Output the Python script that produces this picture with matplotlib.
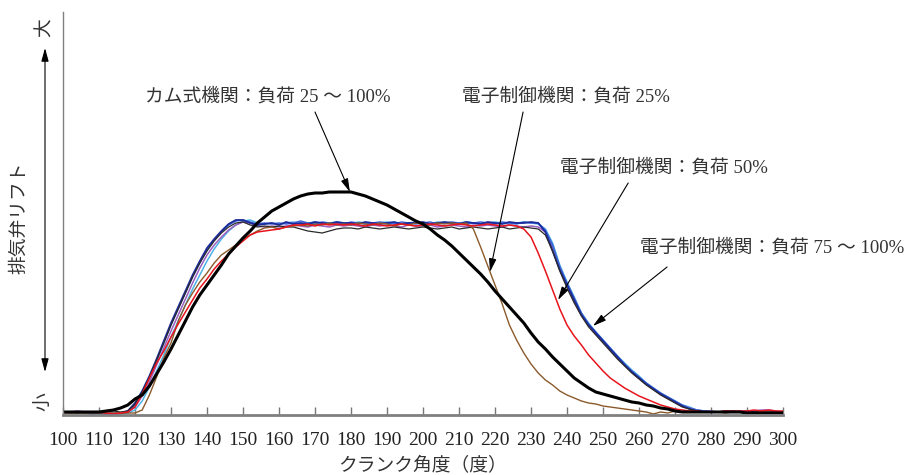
import numpy as np
import matplotlib
matplotlib.use('Agg')
import matplotlib.pyplot as plt

plt.rcParams['font.family'] = ['Liberation Serif', 'Noto Sans CJK JP', 'DejaVu Sans']

# crank angle grid (deg), shared by all traces
angle = np.arange(100, 301, 2)

# exhaust valve lift (arbitrary units)
cam = [1, 1, 1, 1, 1, 1, 2, 3, 5, 8,
       14, 18, 27, 39, 51, 64, 78, 92, 106, 118,
       128, 138, 148, 159, 167, 175, 182, 190, 196, 202,
       206, 210, 214, 217, 219, 220, 220, 221, 221, 221,
       221, 219, 217, 214, 211, 208, 204, 200, 196, 192,
       189, 184, 178, 173, 167, 160, 153, 146, 139, 131,
       122, 114, 106, 98, 90, 80, 71, 64, 56, 49,
       42, 35, 30, 25, 21, 19, 17, 15, 13, 11,
       10, 8, 7, 5, 4, 2, 1, 1, 1, 1,
       1, 1, 1, 1, 1, 0, 0, 0, 0, 0,
       0]

ecu25 = [0, 0, 0, 0, 0, 0, 0, 0, 0, 0,
         0, 3, 18, 36, 55, 70, 92, 108, 120, 131,
         140, 150, 158, 163, 168, 174, 178, 182, 185, 186,
         184, 186, 187, 188, 187, 189, 188, 190, 188, 189,
         188, 190, 189, 188, 190, 189, 187, 189, 188, 190,
         189, 188, 190, 189, 190, 189, 190, 184, 166, 147,
         128, 109, 88, 73, 60, 49, 40, 33, 28, 22,
         18, 15, 12, 10, 9, 7, 6, 5, 4, 3,
         2, 1, -1, 1, 0, 2, 1, 1, 1, 1,
         1, 1, 0, 1, 1, 1, 0, 1, 1, 0,
         0]

ecu50 = [1, 1, 1, 1, 1, 1, 0, -1, 0, 1,
         6, 19, 35, 50, 62, 76, 89, 101, 113, 125,
         134, 144, 152, 159, 166, 172, 178, 181, 182, 183,
         184, 186, 188, 188, 189, 187, 189, 188, 189, 188,
         189, 188, 187, 189, 188, 187, 188, 189, 188, 187,
         188, 189, 188, 187, 188, 189, 188, 187, 188, 189,
         188, 187, 188, 187, 184, 176, 160, 142, 123, 104,
         88, 77, 68, 58, 50, 42, 35, 30, 25, 21,
         17, 14, 11, 8, 6, 4, 3, 2, 2, 1,
         1, 1, 2, 2, 2, 2, 3, 2, 3, 2,
         2]

ecu75_navy = [1, 1, 0, 1, 0, 0, -1, -1, 0, 2,
              10, 22, 37, 54, 72, 90, 106, 122, 138, 152,
              165, 174, 182, 189, 193, 193, 190, 188, 189, 190,
              188, 191, 189, 190, 189, 191, 190, 189, 191, 190,
              190, 189, 191, 190, 189, 190, 191, 189, 190, 190,
              191, 189, 190, 191, 190, 189, 191, 190, 189, 191,
              190, 189, 191, 190, 190, 191, 190, 181, 162, 143,
              128, 113, 98, 88, 80, 72, 64, 56, 48, 41,
              35, 29, 24, 19, 15, 11, 7, 4, 2, 1,
              1, 1, 1, 2, 1, 1, 1, 0, 1, 0,
              0]

ecu75_blue = [1, 0, 1, 0, -1, 0, 0, -1, 0, 1,
              8, 20, 35, 52, 70, 88, 104, 120, 136, 150,
              163, 173, 181, 188, 192, 193, 191, 189, 190, 189,
              190, 189, 190, 192, 190, 189, 191, 190, 190, 189,
              191, 190, 189, 190, 191, 190, 189, 191, 190, 189,
              190, 191, 189, 190, 191, 190, 189, 190, 191, 190,
              189, 191, 190, 189, 191, 190, 190, 183, 168, 146,
              130, 115, 100, 89, 81, 73, 65, 57, 49, 42,
              36, 30, 25, 20, 16, 12, 8, 5, 3, 2,
              1, 1, 2, 1, 1, 2, 1, 1, 0, 1,
              0]

ecu100_purple = [1, 1, 2, 1, 1, 0, 1, 0, 0, 1,
                 6, 17, 31, 48, 65, 82, 98, 114, 130, 145,
                 158, 168, 176, 183, 188, 191, 190, 187, 186, 187,
                 186, 187, 188, 187, 186, 188, 187, 186, 188, 187,
                 188, 187, 186, 188, 187, 188, 187, 186, 188, 187,
                 187, 188, 186, 187, 188, 187, 186, 188, 187, 188,
                 187, 186, 188, 187, 186, 187, 186, 181, 166, 146,
                 128, 112, 99, 88, 79, 71, 63, 55, 48, 41,
                 35, 29, 24, 19, 15, 11, 7, 5, 3, 2,
                 2, 1, 1, 1, 2, 2, 2, 3, 3, 2,
                 1]

ecu100_cyan = [1, 0, 0, 0, -1, -1, -1, -1, -1, 0,
               3, 12, 26, 42, 58, 76, 92, 108, 124, 138,
               152, 164, 174, 182, 188, 192, 193, 190, 189, 190,
               189, 190, 191, 189, 190, 191, 189, 190, 191, 190,
               189, 191, 190, 189, 190, 191, 190, 189, 190, 191,
               190, 189, 191, 190, 189, 190, 191, 190, 189, 190,
               191, 190, 189, 190, 191, 190, 189, 184, 170, 148,
               131, 116, 100, 90, 81, 73, 65, 57, 50, 43,
               37, 30, 25, 20, 16, 12, 8, 6, 3, 2,
               1, 1, 1, 1, 1, 1, 0, 1, 0, 0,
               0]

ecu100_dark = [1, 1, 1, 0, 1, 1, 2, 2, 1, 2,
               9, 21, 36, 53, 70, 88, 104, 120, 136, 150,
               162, 172, 180, 186, 190, 191, 188, 186, 187, 186,
               187, 186, 186, 184, 182, 181, 180, 182, 184, 185,
               185, 184, 186, 185, 184, 185, 186, 185, 184, 185,
               186, 185, 184, 185, 186, 184, 185, 186, 185, 184,
               185, 186, 184, 185, 186, 185, 184, 178, 162, 142,
               125, 110, 97, 86, 78, 70, 62, 54, 47, 40,
               34, 28, 23, 18, 14, 10, 6, 4, 2, 1,
               1, 1, 2, 1, 1, 1, 1, 1, 1, 1,
               1]

xticks = list(range(100, 301, 10))

fig = plt.figure(figsize=(9.07, 4.75), dpi=100)
ax = fig.add_axes([63/907, 60/475, 720/907, 403/475])

ax.plot(angle, ecu100_cyan, color='#4db3e6', lw=1.1)
ax.plot(angle, ecu100_purple, color='#9b5fc0', lw=1.1)
ax.plot(angle, ecu75_blue, color='#3c64d8', lw=1.1)
ax.plot(angle, ecu75_navy, color='#1c2a9c', lw=1.3)
ax.plot(angle, ecu100_dark, color='#2a2a2a', lw=0.9)
ax.plot(angle, ecu25, color='#8b5a2b', lw=1.0)
ax.plot(angle, ecu50, color='#e8141c', lw=1.1)
ax.plot(angle, cam, color='black', lw=2.2)

ax.set_xlim(100, 300)
ax.set_ylim(-2, 401)
ax.set_xticks(xticks)
ax.set_yticks([])
ax.tick_params(axis='x', direction='in', length=6, width=1, color='#777777',
               pad=12, labelsize=14, labelcolor='#222222')
for s in ['top', 'right']:
    ax.spines[s].set_visible(False)
ax.spines['bottom'].set_color('#808080')
ax.spines['bottom'].set_linewidth(2)
ax.spines['left'].set_color('#808080')
ax.spines['left'].set_linewidth(1)

tc = '#333333'
fs = 13.5
arrow = dict(arrowstyle='-|>,head_length=0.8,head_width=0.22', lw=0.8,
             color='black', shrinkA=0, shrinkB=0)

ax.text(122.8, 316, 'カム式機関：負荷 25 ～ 100%', fontsize=fs, color=tc, va='center')
ax.annotate('', xy=(179.7, 221), xytext=(170, 301), arrowprops=arrow)

ax.text(210.8, 316, '電子制御機関：負荷 25%', fontsize=fs, color=tc, va='center')
ax.annotate('', xy=(218.6, 141), xytext=(227.8, 301), arrowprops=arrow)

ax.text(238, 245, '電子制御機関：負荷 50%', fontsize=fs, color=tc, va='center')
ax.annotate('', xy=(237.5, 113), xytext=(257, 230), arrowprops=arrow)

ax.text(260.3, 165, '電子制御機関：負荷 75 ～ 100%', fontsize=fs, color=tc, va='center',
        clip_on=False)
ax.annotate('', xy=(247.2, 87), xytext=(267.8, 146), arrowprops=arrow)

# y axis description
fig.text(20/907, 1 - 218/475, '排気弁リフト', rotation=90, fontsize=fs, color=tc,
         ha='center', va='center')
fig.text(45/907, 1 - 28/475, '大', rotation=90, fontsize=fs, color=tc,
         ha='center', va='center')
fig.text(45/907, 1 - 402/475, '小', rotation=90, fontsize=fs, color=tc,
         ha='center', va='center')
ax.annotate('', xy=(45/907, 1 - 48/475), xytext=(45/907, 1 - 372/475),
            xycoords='figure fraction', textcoords='figure fraction',
            arrowprops=dict(arrowstyle='<|-|>,head_length=0.8,head_width=0.22',
                            lw=0.8, color='black', shrinkA=0, shrinkB=0),
            annotation_clip=False)

fig.text(423/907, 1 - 465/475, 'クランク角度（度）', fontsize=fs, color=tc,
         ha='center', va='center')

fig.savefig('out.png', dpi=100)
